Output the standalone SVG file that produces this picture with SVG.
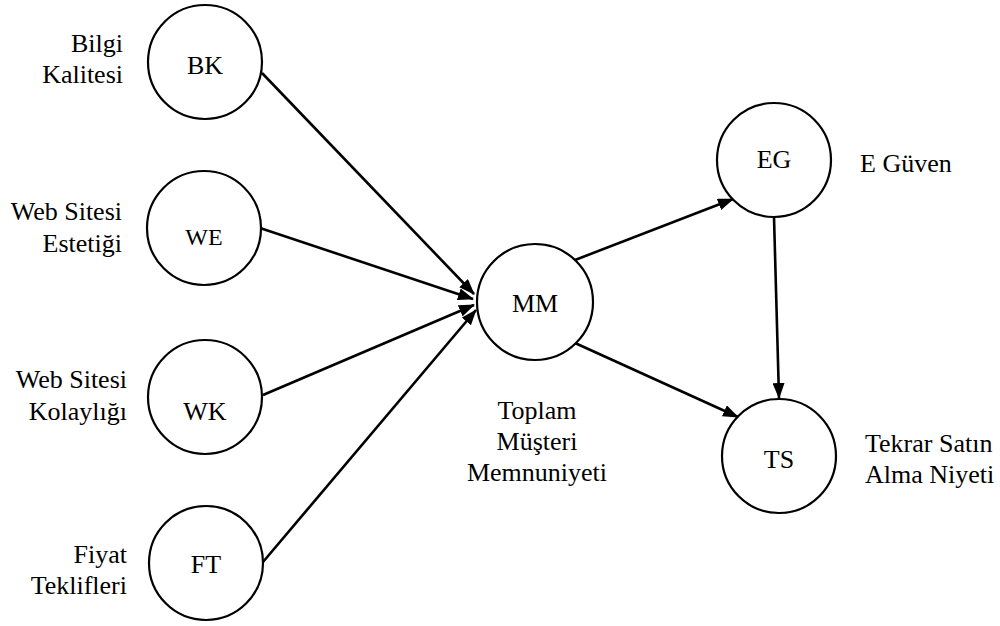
<svg xmlns="http://www.w3.org/2000/svg" width="1000" height="626" viewBox="0 0 1000 626">
<style>
text{font-family:"Times New Roman",Times,"Liberation Serif","Noto Serif","DejaVu Serif",serif;font-size:26px;fill:#000}
.c{fill:#fff;stroke:#000;stroke-width:2.2}
.lbl{text-anchor:end}
.mid{text-anchor:middle}
.e{stroke:#000;stroke-width:2.6;fill:none;marker-end:url(#ah)}
</style>
<defs>
<marker id="ah" markerUnits="userSpaceOnUse" markerWidth="16" markerHeight="12" refX="15" refY="6" orient="auto" viewBox="0 0 16 12">
<path d="M0,0 L16,6 L0,12 z" fill="#000"/>
</marker>
</defs>
<rect width="1000" height="626" fill="#fff"/>
<g id="connectors">
<line class="e" x1="262" y1="73" x2="474" y2="294"/>
<line class="e" x1="260" y1="228" x2="473" y2="299"/>
<line class="e" x1="263" y1="395" x2="474" y2="305"/>
<line class="e" x1="263" y1="562" x2="476" y2="310"/>
<line class="e" x1="575" y1="260" x2="733" y2="199"/>
<line class="e" x1="575" y1="343" x2="738" y2="417"/>
<line class="e" x1="774" y1="217" x2="779" y2="398"/>
</g>
<g id="BK">
<circle class="c" cx="205" cy="62" r="57"/>
<text class="mid" x="205" y="74">BK</text>
<text class="lbl" x="123" y="52">Bilgi</text>
<text class="lbl" x="123" y="83">Kalitesi</text>
</g>
<g id="WE">
<circle class="c" cx="204" cy="228" r="57"/>
<text class="mid" x="204" y="245" style="font-size:24px">WE</text>
<text class="lbl" x="122" y="220">Web Sitesi</text>
<text class="lbl" x="122" y="252">Estetiği</text>
</g>
<g id="WK">
<circle class="c" cx="205" cy="397" r="57"/>
<text class="mid" x="205" y="420">WK</text>
<text class="lbl" x="127" y="388">Web Sitesi</text>
<text class="lbl" x="127" y="420">Kolaylığı</text>
</g>
<g id="FT">
<circle class="c" cx="206" cy="563" r="57"/>
<text class="mid" x="206" y="573">FT</text>
<text class="lbl" x="127" y="563">Fiyat</text>
<text class="lbl" x="127" y="594">Teklifleri</text>
</g>
<g id="MM">
<circle class="c" cx="535" cy="302" r="58"/>
<text class="mid" x="535" y="312">MM</text>
<text class="mid" x="537" y="419">Toplam</text>
<text class="mid" x="537" y="450">Müşteri</text>
<text class="mid" x="537" y="481">Memnuniyeti</text>
</g>
<g id="EG">
<circle class="c" cx="774" cy="160" r="57"/>
<text class="mid" x="774" y="168">EG</text>
<text x="860" y="172">E Güven</text>
</g>
<g id="TS">
<circle class="c" cx="779" cy="456" r="57"/>
<text class="mid" x="779" y="468">TS</text>
<text x="865" y="452">Tekrar Satın</text>
<text x="865" y="483">Alma Niyeti</text>
</g>
</svg>
